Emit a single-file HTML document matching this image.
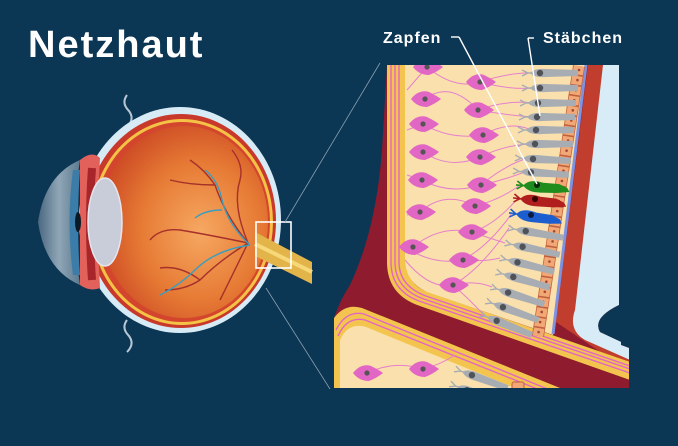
<!DOCTYPE html>
<html><head><meta charset="utf-8"><style>
html,body{margin:0;padding:0;background:#0b3654;}
svg{display:block}
text{font-family:"Liberation Sans",sans-serif;font-weight:bold;fill:#fff}
</style></head><body>
<svg width="678" height="446" viewBox="0 0 678 446" xmlns="http://www.w3.org/2000/svg">
<defs>
<radialGradient id="og" cx="0.6" cy="0.55" r="0.6">
<stop offset="0" stop-color="#f6a862"/><stop offset="0.6" stop-color="#e67a34"/><stop offset="1" stop-color="#cf4e26"/>
</radialGradient>
<linearGradient id="cg" x1="0" x2="1"><stop offset="0" stop-color="#4a6880"/><stop offset="0.5" stop-color="#8fa6b6"/><stop offset="1" stop-color="#5d7a90"/></linearGradient>
<clipPath id="pc"><path d="M387,65 H621 V345 L629,348 V388 H334 V318 Q340,300 350,285 Q376,230 382,150 Z"/></clipPath>
<g id="rod"><path d="M0,-3 L6,0 L0,3 M6,0 L9,0" stroke="#a8adb4" stroke-width="1.4" fill="none"/><path d="M8,0 Q12,-5 24,-4 L56,-3 L56,3 L24,4 Q12,5 8,0 Z" fill="#a8adb4"/><circle cx="18" cy="0" r="3.2" fill="#4f5358"/></g>
<g id="cone"><path d="M0,-4 L6,0 L0,4 M-1,0 L8,0" stroke-width="1.6" fill="none"/><path d="M7,0 Q12,-7 26,-4 L42,-4 L50,-1 L52,2 L40,4 L24,5 Q12,6 7,0 Z"/></g>
<g id="gc"><path d="M-14,0 Q-6,-10 4,-7 Q12,-3 16,0 Q10,5 2,8 Q-8,8 -14,0 Z" fill="#e266c4"/><circle cx="0" cy="0" r="2.6" fill="#555"/></g>
</defs>
<rect width="678" height="446" fill="#0b3654"/>
<text x="28" y="57" font-size="38" letter-spacing="2">Netzhaut</text>
<text x="383" y="43" font-size="16" letter-spacing="1">Zapfen</text>
<text x="543" y="43" font-size="16" letter-spacing="1">Stäbchen</text>

<!-- eye -->
<path d="M127,95 q-6,8 2,16 q6,8 -2,16" stroke="#b8c8d4" stroke-width="2" fill="none"/>
<path d="M127,320 q-6,8 2,16 q6,8 -2,16" stroke="#b8c8d4" stroke-width="2" fill="none"/>
<ellipse cx="180" cy="220" rx="101" ry="113" fill="#d7ebf6"/>
<ellipse cx="181" cy="221" rx="95" ry="107" fill="#c8392b"/>
<ellipse cx="182" cy="222" rx="91" ry="103" fill="#f4c346"/>
<ellipse cx="182" cy="222" rx="88" ry="100" fill="#d4452e"/>
<ellipse cx="184" cy="222" rx="84" ry="96" fill="url(#og)"/>
<path d="M80,160 Q92,150 100,158 Q96,220 100,288 Q90,292 80,285 Z" fill="#e2615a"/>
<path d="M92,168 Q88,222 92,280" stroke="#a8262a" stroke-width="8" fill="none"/>
<ellipse cx="105" cy="222" rx="17" ry="44" fill="#c9cdd9" stroke="#e4e6ee" stroke-width="1.5"/>
<path d="M80,160 Q45,175 38,222 Q45,270 80,285 Q70,222 80,160 Z" fill="url(#cg)"/>
<path d="M73,170 Q66,222 73,275 L80,275 Q76,222 80,170 Z" fill="#3c7ca8"/>
<ellipse cx="78" cy="222" rx="3" ry="10" fill="#0a1a26"/>
<g stroke="#a6302a" stroke-width="1.4" fill="none">
<path d="M248,243 Q225,215 215,185 Q205,170 190,160"/>
<path d="M248,243 Q232,205 240,180 Q244,165 232,150"/>
<path d="M248,243 Q210,235 180,230 Q160,228 150,240"/>
<path d="M248,243 Q220,260 200,280 Q185,290 165,290"/>
<path d="M248,243 Q230,280 220,300"/>
<path d="M215,185 Q190,185 170,180"/>
<path d="M200,280 Q180,265 160,268"/>
</g>
<g stroke="#3a9ec0" stroke-width="1.4" fill="none">
<path d="M250,245 Q228,225 222,200 Q218,180 205,170"/>
<path d="M250,245 Q215,250 195,270 Q180,285 160,295"/>
<path d="M222,210 Q205,210 195,218"/>
</g>
<path d="M255,232 L312,262 L312,284 L255,256 Z" fill="#e2b44a"/>
<path d="M255,244 L312,272" stroke="#f6d878" stroke-width="4"/>
<rect x="256" y="222" width="35" height="46" fill="none" stroke="#fff" stroke-width="1.6"/>
<line x1="285" y1="222" x2="380" y2="63" stroke="#8aa0b0" stroke-width="0.8"/>
<line x1="266" y1="288" x2="330" y2="389" stroke="#8aa0b0" stroke-width="0.8"/>

<!-- panel -->
<g clip-path="url(#pc)">
<rect x="330" y="60" width="300" height="330" fill="#8e1c2e"/>
<path d="M588,65 H630 V372 L556,322 Z" fill="#c13e2e"/>
<path d="M603,65 H619 V305 Q592,318 600,332 L630,346 V360 L585,340 Q568,330 575,310 Z" fill="#d7ecf6"/>
<path d="M619,65 H632 V347 L600,332 Q592,318 619,305 Z" fill="#0b3654"/>
<path d="M387,65 H407 V262 Q407,285 428,292 L630,362 V380 L420,306 Q387,295 387,262 Z" fill="#f3c54e"/>
<path d="M405,65 H587 L553,335 L430,293 Q405,284 405,258 Z" fill="#fae0ac"/>
<g stroke="#e266c4" stroke-width="1.4" fill="none">
<path d="M391,65 V262 Q391,292 422,302 L630,373"/>
<path d="M395,65 V262 Q395,289 424,299 L630,369"/>
<path d="M399,65 V262 Q399,286 426,296 L630,366"/>
</g>
<line x1="586" y1="65" x2="553" y2="334" stroke="#7f92e2" stroke-width="3"/>
<line x1="579" y1="66" x2="538" y2="336" stroke="#c06040" stroke-width="12"/>
<line x1="579" y1="66" x2="538" y2="336" stroke="#f2a874" stroke-width="10.5" stroke-dasharray="8.6 1.6"/>
<line x1="579" y1="70" x2="538" y2="336" stroke="#a04838" stroke-width="2.6" stroke-linecap="round" stroke-dasharray="0 10.2"/>
<!-- lower fold -->
<path d="M334,318 Q345,303 362,308 L565,390 H334 Z" fill="#f3c54e"/>
<path d="M340,340 Q348,322 366,327 L520,390 H340 Z" fill="#fae0ac"/>
<g stroke="#e266c4" stroke-width="1.4" fill="none">
<path d="M336,330 Q346,310 364,314 L550,390"/>
<path d="M338,336 Q347,316 365,320 L540,390"/>
</g>
<!-- dendrites -->
<g stroke="#e680cc" stroke-width="1" fill="none">
<path d="M427,67 Q455,90 480,82 Q510,72 535,73"/><path d="M425,99 Q450,80 478,110 Q505,100 533,103"/>
<path d="M423,124 Q450,140 483,135 Q510,120 531,130"/><path d="M423,152 Q450,170 480,157 Q505,145 530,144"/>
<path d="M422,180 Q450,195 481,185 Q505,165 528,158"/><path d="M420,212 Q445,190 475,206 Q500,200 520,185"/>
<path d="M413,247 Q440,225 472,232 Q495,225 518,198"/><path d="M410,250 Q435,265 463,260 Q490,245 512,213"/>
<path d="M405,260 Q430,290 453,285 Q480,270 509,228"/>
<path d="M480,82 Q510,90 533,88"/><path d="M478,110 Q505,115 533,117"/><path d="M481,185 Q505,180 527,171"/>
<path d="M472,232 Q495,240 505,243"/><path d="M463,260 Q485,262 500,258"/><path d="M453,285 Q475,280 492,287"/><path d="M453,285 Q470,300 482,313"/>
<path d="M407,90 L427,67"/><path d="M407,130 L423,124"/><path d="M407,175 L422,180"/><path d="M407,215 L420,212"/>
<path d="M367,373 Q395,360 423,369 Q440,365 455,355"/>
</g>
<use href="#gc" x="427" y="67"/><use href="#gc" x="425" y="99"/><use href="#gc" x="423" y="124"/><use href="#gc" x="423" y="152"/>
<use href="#gc" x="422" y="180"/><use href="#gc" x="420" y="212"/><use href="#gc" x="413" y="247"/>
<use href="#gc" x="480" y="82"/><use href="#gc" x="478" y="110"/><use href="#gc" x="483" y="135"/><use href="#gc" x="480" y="157"/>
<use href="#gc" x="481" y="185"/><use href="#gc" x="475" y="206"/><use href="#gc" x="472" y="232"/><use href="#gc" x="463" y="260"/><use href="#gc" x="453" y="285"/>
<use href="#gc" x="367" y="373"/><use href="#gc" x="423" y="369"/>
<use href="#rod" transform="translate(522,73)"/><use href="#rod" transform="translate(522,88)"/><use href="#rod" transform="translate(520,103)"/>
<use href="#rod" transform="translate(519,117)"/><use href="#rod" transform="translate(518,130)"/><use href="#rod" transform="translate(517,144)"/>
<use href="#rod" transform="translate(515,158) rotate(3)"/><use href="#rod" transform="translate(513,171) rotate(4)"/>
<use href="#cone" transform="translate(517,185) rotate(5)" fill="#1f8c1e" stroke="#1f8c1e"/>
<use href="#cone" transform="translate(514,198) rotate(7)" fill="#b01e1e" stroke="#b01e1e"/>
<use href="#cone" transform="translate(510,213) rotate(9)" fill="#1c5ed0" stroke="#1c5ed0"/>
<circle cx="537" cy="185" r="3" fill="#0a2a0a"/><circle cx="535" cy="199" r="3" fill="#300"/><circle cx="531" cy="215" r="3" fill="#0a1a40"/>
<use href="#rod" transform="translate(508,228) rotate(10)"/><use href="#rod" transform="translate(505,243) rotate(12)"/>
<use href="#rod" transform="translate(500,258) rotate(14)"/><use href="#rod" transform="translate(496,272) rotate(16)"/>
<use href="#rod" transform="translate(491,287) rotate(18)"/><use href="#rod" transform="translate(486,301) rotate(20)"/>
<use href="#rod" transform="translate(480,314) rotate(22)"/>
<use href="#rod" transform="translate(455,369) rotate(20)"/><use href="#rod" transform="translate(450,384) rotate(20)"/>
<rect x="512" y="382" width="12" height="10" rx="2" fill="#f2a874" stroke="#c06040"/>
</g>
<line x1="451" y1="37" x2="459" y2="37" stroke="#fff" stroke-width="1.4"/>
<line x1="459" y1="37" x2="537" y2="184" stroke="#fff" stroke-width="1.4"/>
<line x1="528" y1="38" x2="534" y2="38" stroke="#fff" stroke-width="1.4"/>
<line x1="528" y1="38" x2="540" y2="116" stroke="#fff" stroke-width="1.4"/>
</svg>
</body></html>
